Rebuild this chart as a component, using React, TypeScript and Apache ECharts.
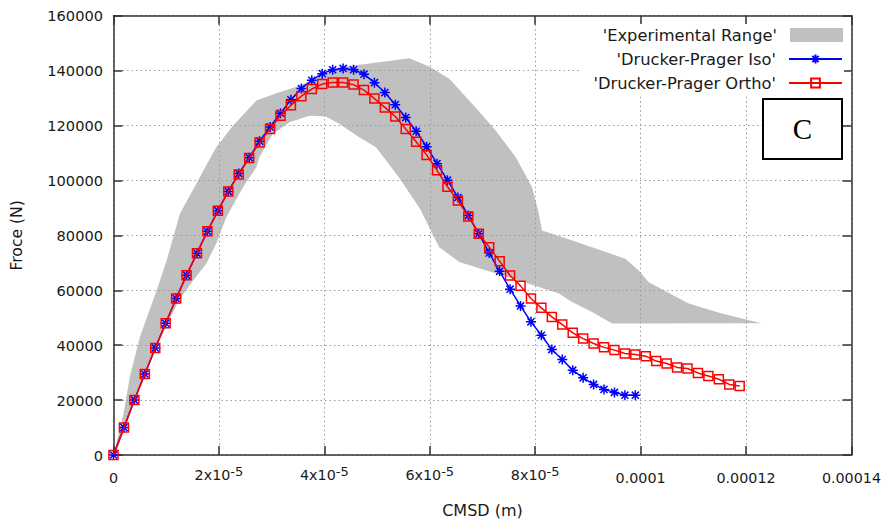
import { useEffect, useRef } from "react";
import * as echarts from "echarts";

// CMSD sample positions in micrometres (converted to metres when plotted)
const cmsdMicrometres = [
  0, 1.98, 3.96, 5.94, 7.92, 9.9, 11.88, 13.86, 15.84, 17.82, 19.8, 21.78, 23.76, 25.74,
  27.72, 29.7, 31.68, 33.66, 35.64, 37.62, 39.6, 41.58, 43.56, 45.54, 47.52, 49.5, 51.48,
  53.46, 55.44, 57.42, 59.4, 61.38, 63.36, 65.34, 67.32, 69.3, 71.28, 73.26, 75.24, 77.22,
  79.2, 81.18, 83.16, 85.14, 87.12, 89.1, 91.08, 93.06, 95.04, 97.02, 99.0, 100.98, 102.96,
  104.94, 106.92, 108.9, 110.88, 112.86, 114.84, 116.82, 118.8,
];

const isoForce = [
  0, 10000, 20000, 29500, 39000, 48000, 57000, 65500, 73500, 81500, 89000,
  96000, 102500, 108300, 114300, 119500, 124500, 129400, 133500, 136500, 138900,
  140300, 140800, 140300, 138700, 135600, 132000, 127600, 122900, 117900, 112300,
  106100, 100100, 93800, 87200, 80600, 73600, 66900, 60400, 54300, 48500,
  43600, 38400, 34800, 30900, 28100, 25700, 23900, 22800, 21800, 21800,
];

const orthoForce = [
  0, 10000, 20000, 29500, 39000, 48000, 57000, 65500, 73500, 81500, 89000, 96000,
  102200, 108200, 113800, 118700, 123600, 127400, 130700, 133300, 135100,
  135700, 135700, 134900, 132900, 129800, 126600, 123300, 118700, 114100, 109300,
  103700, 97700, 92700, 86900, 80600, 75700, 70600, 65400, 61600, 57000,
  53600, 50300, 47500, 44500, 42400, 40600, 39200, 38200, 37000, 36600,
  36000, 34200, 33300, 31900, 31500, 29900, 28800, 27600, 25700, 25100,
];

// Experimental range envelope [CMSD µm, force N]
const bandUpper = [
  [0, 0], [1.9, 15000], [3.1, 28500], [5.0, 43000], [8.2, 60000], [10.1, 70900],
  [12.6, 87900], [15.7, 98800], [17.6, 105500], [19.5, 112100], [22.7, 120000],
  [27.1, 129100], [30.9, 131800], [35.3, 134500], [39.7, 138200], [43.5, 141500],
  [47.9, 142400], [56.1, 144500], [59.9, 141500], [63.7, 137000], [68.7, 126600],
  [72.5, 118200], [76.3, 108500], [79.4, 97600], [80.7, 87900], [81.3, 81800],
  [86.5, 78500], [97.1, 71500], [99.6, 67300], [101.5, 63000], [109.1, 55200],
  [115.4, 51500], [122.9, 48000],
];
const bandLower = [
  [94.6, 47900], [90.8, 52100], [87.0, 55700], [84.5, 58800], [76.9, 63600],
  [70.6, 67300], [65.6, 70300], [61.8, 75700], [60.5, 80600], [58.2, 89500],
  [54.2, 101000], [49.8, 112100], [46.6, 115700], [42.9, 120600], [40.3, 123300],
  [37.2, 123600], [33.4, 121200], [30.2, 116900], [27.7, 108500], [27.1, 104800],
  [24.6, 97600], [21.4, 86600], [19.5, 77000], [17.6, 69700], [15.1, 63600],
  [12.3, 56000], [8.2, 39500], [4.2, 20500], [0.5, 1000],
];

const xTickLabels = ["0", "2x10^-5", "4x10^-5", "6x10^-5", "8x10^-5", "0.0001", "0.00012", "0.00014"];
const yTickLabels = ["0", "20000", "40000", "60000", "80000", "100000", "120000", "140000", "160000"];

const seriesNames = ["'Experimental Range'", "'Drucker-Prager Iso'", "'Drucker-Prager Ortho'"];

const FONT = "'DejaVu Sans', Verdana, sans-serif";
const TEXT_COLOR = "#1a1a1a";
const AXIS_COLOR = "#333333";
const STAR = "path://M5,0L5,10M0,5L10,5M1.46,1.46L8.54,8.54M8.54,1.46L1.46,8.54";

export default function App() {
  const ref = useRef<HTMLDivElement>(null);

  useEffect(() => {
    if (!ref.current) return;
    const chart = echarts.init(ref.current, null, { renderer: "svg" });

    const um = 1e-6;
    const isoData = isoForce.map((f, i) => [cmsdMicrometres[i] * um, f]);
    const orthoData = orthoForce.map((f, i) => [cmsdMicrometres[i] * um, f]);
    const bandData = [...bandUpper, ...bandLower].map((p) => [p[0] * um, p[1]]);

    const gridRect = { left: 113.5, top: 15.7, right: 31, bottom: 69 };

    const xFormatter = (v: number) => {
      const idx = Math.round(v / 2e-5);
      const s = xTickLabels[idx] ?? "";
      if (s.includes("^")) {
        const [base, exp] = s.split("^");
        return `{b|${base}}{s|${exp}}`;
      }
      return `{p|${s}}`;
    };

    const legendBase = {
      right: 41,
      orient: "horizontal" as const,
      align: "right" as const,
      padding: 0,
      itemWidth: 53,
      selectedMode: false,
      formatter: (name: string) => `{t|${name}}`,
      textStyle: {
        rich: {
          t: {
            fontFamily: FONT,
            fontSize: 16.3,
            color: TEXT_COLOR,
            lineHeight: 16,
            padding: [0, 8, 0, 0],
          },
        },
      },
    };

    const option: any = {
      animation: false,
      backgroundColor: "#ffffff",
      textStyle: { fontFamily: FONT },
      grid: { ...gridRect, containLabel: false },
      xAxis: [
        {
          type: "value",
          min: 0,
          max: 0.00014,
          interval: 0.00002,
          position: "bottom",
          name: "CMSD (m)",
          nameLocation: "middle",
          nameGap: 55,
          nameTextStyle: {
            fontFamily: FONT,
            fontSize: 16,
            color: TEXT_COLOR,
            verticalAlign: "middle",
            align: "center",
          },
          axisLine: { onZero: false, lineStyle: { color: AXIS_COLOR, width: 1.5 } },
          axisTick: { inside: true, length: 9, lineStyle: { color: AXIS_COLOR, width: 1.5 } },
          axisLabel: {
            margin: 10,
            showMinLabel: true,
            showMaxLabel: true,
            formatter: xFormatter,
            rich: {
              p: { fontFamily: FONT, fontSize: 14.3, color: TEXT_COLOR, lineHeight: 26 },
              b: {
                fontFamily: FONT,
                fontSize: 14.3,
                color: TEXT_COLOR,
                lineHeight: 16,
                verticalAlign: "bottom",
                padding: [10, 0, 0, 0],
              },
              s: {
                fontFamily: FONT,
                fontSize: 13,
                color: TEXT_COLOR,
                lineHeight: 17,
                verticalAlign: "top",
              },
            },
          },
          splitLine: {
            show: true,
            lineStyle: { color: "#9a9a9a", width: 1, type: [1.5, 3] },
          },
        },
        {
          type: "value",
          min: 0,
          max: 0.00014,
          interval: 0.00002,
          position: "top",
          axisLine: { onZero: false, lineStyle: { color: AXIS_COLOR, width: 1.5 } },
          axisTick: { inside: true, length: 9, lineStyle: { color: AXIS_COLOR, width: 1.5 } },
          axisLabel: { show: false },
          splitLine: { show: false },
        },
      ],
      yAxis: [
        {
          type: "value",
          min: 0,
          max: 160000,
          interval: 20000,
          position: "left",
          name: "Froce (N)",
          nameLocation: "middle",
          nameGap: 96.5,
          nameTextStyle: {
            fontFamily: FONT,
            fontSize: 15.6,
            color: TEXT_COLOR,
            verticalAlign: "middle",
            align: "center",
          },
          axisLine: { onZero: false, lineStyle: { color: AXIS_COLOR, width: 1.5 } },
          axisTick: { inside: true, length: 9, lineStyle: { color: AXIS_COLOR, width: 1.5 } },
          axisLabel: {
            margin: 10.5,
            fontFamily: FONT,
            fontSize: 14.6,
            color: TEXT_COLOR,
            showMinLabel: true,
            showMaxLabel: true,
            formatter: (v: number) => yTickLabels[Math.round(v / 20000)] ?? "",
          },
          splitLine: {
            show: true,
            lineStyle: { color: "#9a9a9a", width: 1, type: [1.5, 3] },
          },
        },
        {
          type: "value",
          min: 0,
          max: 160000,
          interval: 20000,
          position: "right",
          axisLine: { onZero: false, lineStyle: { color: AXIS_COLOR, width: 1.5 } },
          axisTick: { inside: true, length: 9, lineStyle: { color: AXIS_COLOR, width: 1.5 } },
          axisLabel: { show: false },
          splitLine: { show: false },
        },
      ],
      legend: [
        {
          ...legendBase,
          top: 27,
          itemHeight: 14,
          data: [{ name: seriesNames[0], icon: "rect" }],
        },
        {
          ...legendBase,
          top: 51,
          itemHeight: 11,
          data: [seriesNames[1]],
        },
        {
          ...legendBase,
          top: 75,
          itemHeight: 11,
          data: [seriesNames[2]],
        },
      ],
      graphic: [
        {
          type: "rect",
          z: 1,
          shape: { x: 580, y: 24, width: 264, height: 72 },
          style: { fill: "#ffffff" },
          silent: true,
        },
        {
          type: "rect",
          z: 5,
          shape: { x: 763, y: 99, width: 79, height: 60 },
          style: { fill: "#ffffff", stroke: "#000000", lineWidth: 2 },
          silent: true,
        },
        {
          type: "text",
          z: 6,
          x: 802.5,
          y: 129,
          style: {
            text: "C",
            fontFamily: "'Liberation Serif', 'Times New Roman', serif",
            fontSize: 29,
            fill: "#000000",
            align: "center",
            verticalAlign: "middle",
          },
          silent: true,
        },
      ],
      series: [
        {
          type: "custom",
          name: seriesNames[0],
          z: -1,
          xAxisIndex: 0,
          yAxisIndex: 0,
          itemStyle: { color: "#c0c0c0" },
          data: bandData,
          renderItem: (params: any, api: any) => {
            if (params.dataIndex !== 0) return null;
            const pts = bandData.map((p) => api.coord(p));
            return {
              type: "polygon",
              shape: { points: pts },
              style: { fill: "#c0c0c0", stroke: "none" },
            };
          },
          silent: true,
        },
        {
          type: "line",
          name: seriesNames[1],
          z: 3,
          xAxisIndex: 0,
          yAxisIndex: 0,
          data: isoData,
          symbol: STAR,
          symbolSize: 10,
          lineStyle: { color: "#0000ff", width: 1.5 },
          itemStyle: { color: "#0000ff", borderColor: "#0000ff", borderWidth: 1.5 },
          silent: true,
        },
        {
          type: "line",
          name: seriesNames[2],
          z: 4,
          xAxisIndex: 0,
          yAxisIndex: 0,
          data: orthoData,
          symbol: "rect",
          symbolSize: 9,
          lineStyle: { color: "#ff0000", width: 1.5 },
          itemStyle: { color: "rgba(255,255,255,0)", borderColor: "#ff0000", borderWidth: 1.5 },
          silent: true,
        },
      ],
    };

    chart.setOption(option);
    return () => chart.dispose();
  }, []);

  return (
    <div
      ref={ref}
      style={{ position: "fixed", left: 0, top: 0, width: 884, height: 524, background: "#ffffff" }}
    />
  );
}
